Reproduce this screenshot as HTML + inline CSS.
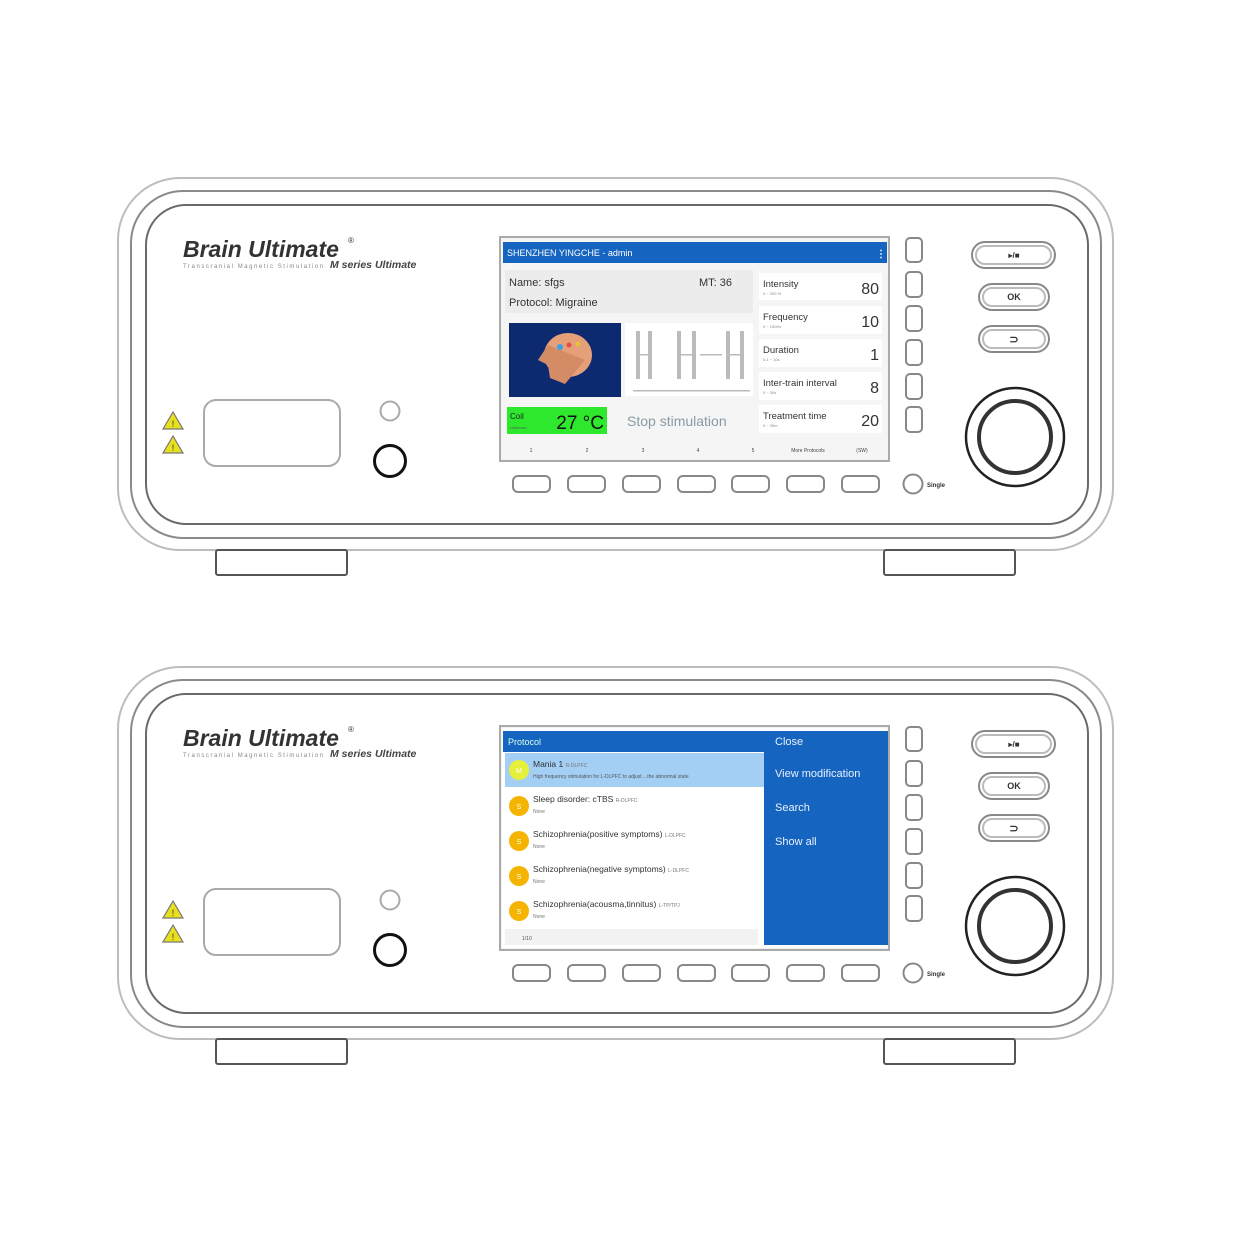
<!DOCTYPE html>
<html><head><meta charset="utf-8"><style>
html,body{margin:0;padding:0;background:#fff;}
svg{display:block;font-family:"Liberation Sans",sans-serif;}
</style></head><body>
<svg width="1240" height="1240" viewBox="0 0 1240 1240" xmlns="http://www.w3.org/2000/svg">
<defs>
<g id="frame">
  <rect x="118" y="178" width="995" height="372" rx="62" fill="#fff" stroke="#bdbdbd" stroke-width="2"/>
  <rect x="131" y="191" width="970" height="347" rx="52" fill="none" stroke="#8a8a8a" stroke-width="2"/>
  <rect x="146" y="205" width="942" height="319" rx="40" fill="none" stroke="#6a6a6a" stroke-width="2"/>
  <rect x="216" y="550" width="131" height="25" rx="2" fill="#fff" stroke="#555" stroke-width="2"/>
  <rect x="884" y="550" width="131" height="25" rx="2" fill="#fff" stroke="#555" stroke-width="2"/>
  <text x="183" y="257" font-size="23" font-weight="bold" font-style="italic" fill="#333">Brain Ultimate</text>
  <text x="348" y="243" font-size="8" fill="#333">®</text>
  <text x="183" y="268" font-size="6" fill="#888" textLength="140">Transcranial Magnetic Stimulation</text>
  <text x="330" y="268" font-size="10.5" font-weight="bold" font-style="italic" fill="#444">M series Ultimate</text>
  <path d="M173 412 L183 429 L163 429 Z" fill="#e6e020" stroke="#777" stroke-width="1.2"/>
  <path d="M173 436 L183 453 L163 453 Z" fill="#e6e020" stroke="#777" stroke-width="1.2"/>
  <text x="173" y="427" font-size="9" text-anchor="middle" fill="#333">!</text>
  <text x="173" y="451" font-size="9" text-anchor="middle" fill="#333">!</text>
  <rect x="204" y="400" width="136" height="66" rx="12" fill="none" stroke="#aaa" stroke-width="2"/>
  <circle cx="390" cy="411" r="9.5" fill="none" stroke="#aaa" stroke-width="2"/>
  <circle cx="390" cy="461" r="15.5" fill="none" stroke="#111" stroke-width="3"/>
  <rect x="500" y="237" width="389" height="224" fill="#f3f3f3" stroke="#aaa" stroke-width="2"/>
  <g fill="none" stroke="#888" stroke-width="2">
    <rect x="513" y="476" width="37" height="16" rx="5"/><rect x="568" y="476" width="37" height="16" rx="5"/>
    <rect x="623" y="476" width="37" height="16" rx="5"/><rect x="678" y="476" width="37" height="16" rx="5"/>
    <rect x="732" y="476" width="37" height="16" rx="5"/><rect x="787" y="476" width="37" height="16" rx="5"/>
    <rect x="842" y="476" width="37" height="16" rx="5"/>
    <rect x="906" y="238" width="16" height="24" rx="4"/><rect x="906" y="272" width="16" height="25" rx="4"/>
    <rect x="906" y="306" width="16" height="25" rx="4"/><rect x="906" y="340" width="16" height="25" rx="4"/>
    <rect x="906" y="374" width="16" height="25" rx="4"/><rect x="906" y="407" width="16" height="25" rx="4"/>
    <circle cx="913" cy="484" r="9.5"/>
    <rect x="972" y="242" width="83" height="26" rx="13"/><rect x="976" y="246" width="75" height="18" rx="9" stroke="#bbb"/>
    <rect x="979" y="284" width="70" height="26" rx="13"/><rect x="983" y="288" width="62" height="18" rx="9" stroke="#bbb"/>
    <rect x="979" y="326" width="70" height="26" rx="13"/><rect x="983" y="330" width="62" height="18" rx="9" stroke="#bbb"/>
  </g>
  <text x="927" y="487" font-size="6" font-weight="bold" fill="#333">Single</text>
  <text x="1014" y="258" font-size="8" font-weight="bold" text-anchor="middle" fill="#333">▸/■</text>
  <text x="1014" y="300" font-size="9" font-weight="bold" text-anchor="middle" fill="#333">OK</text>
  <text x="1014" y="343" font-size="11" font-weight="bold" text-anchor="middle" fill="#333">⊃</text>
  <circle cx="1015" cy="437" r="49" fill="none" stroke="#222" stroke-width="2.5"/>
  <circle cx="1015" cy="437" r="36" fill="none" stroke="#333" stroke-width="4"/>
</g>
</defs>

<use href="#frame"/>
<use href="#frame" y="489"/>

<!-- TOP SCREEN -->
<g font-family="Liberation Sans, sans-serif">
  <rect x="502" y="239" width="385" height="220" fill="#f5f5f5"/>
  <rect x="503" y="242" width="384" height="21" fill="#1565c0"/>
  <text x="507" y="256" font-size="9" fill="#fff">SHENZHEN YINGCHE  -  admin</text>
  <text x="876" y="257" font-size="10" fill="#fff" font-weight="bold">⋮</text>
  <rect x="505" y="270" width="248" height="43" fill="#ececec"/>
  <text x="509" y="286" font-size="11" fill="#333">Name: sfgs</text>
  <text x="699" y="286" font-size="11" fill="#333">MT: 36</text>
  <text x="509" y="306" font-size="11" fill="#333">Protocol: Migraine</text>
  <rect x="509" y="323" width="112" height="74" fill="#0d2a70"/>
  <ellipse cx="568" cy="355" rx="24" ry="22" fill="#e5a07a"/>
  <path d="M548 345 L538 360 L548 365 L550 378 L565 384 L575 372 L585 360 Z" fill="#d48c66"/>
  <circle cx="560" cy="347" r="3" fill="#3aa0e8"/><circle cx="569" cy="345" r="2.5" fill="#e84a4a"/><circle cx="578" cy="344" r="2.5" fill="#e8c03a"/>
  <rect x="625" y="323" width="128" height="73" fill="#fff"/>
  <g fill="#bbb">
    <rect x="636" y="331" width="4" height="48"/><rect x="648" y="331" width="4" height="48"/>
    <rect x="677" y="331" width="4" height="48"/><rect x="692" y="331" width="4" height="48"/>
    <rect x="726" y="331" width="4" height="48"/><rect x="740" y="331" width="4" height="48"/>
    <rect x="636" y="354" width="16" height="1.5"/><rect x="677" y="354" width="19" height="1.5"/><rect x="700" y="354" width="22" height="1.5"/><rect x="726" y="354" width="18" height="1.5"/>
    <rect x="633" y="390" width="117" height="1.5"/>
  </g>
  <rect x="507" y="407" width="100" height="27" fill="#2ee82e"/>
  <text x="510" y="419" font-size="8" fill="#222">Coil</text>
  <text x="510" y="429" font-size="4" fill="#555">Unknown</text>
  <text x="604" y="429" font-size="19" fill="#111" text-anchor="end">27 °C</text>
  <text x="627" y="426" font-size="14" fill="#8a9aa5">Stop stimulation</text>
  <g font-size="9.5" fill="#333">
    <rect x="759" y="273" width="123" height="27" fill="#fff"/>
    <text x="763" y="287">Intensity</text><text x="763" y="295" font-size="4" fill="#888">0 ~ 200 %</text>
    <text x="879" y="294" font-size="16" text-anchor="end">80</text>
    <rect x="759" y="306" width="123" height="28" fill="#fff"/>
    <text x="763" y="320">Frequency</text><text x="763" y="328" font-size="4" fill="#888">0 ~ 100Hz</text>
    <text x="879" y="327" font-size="16" text-anchor="end">10</text>
    <rect x="759" y="339" width="123" height="28" fill="#fff"/>
    <text x="763" y="353">Duration</text><text x="763" y="361" font-size="4" fill="#888">0.1 ~ 10s</text>
    <text x="879" y="360" font-size="16" text-anchor="end">1</text>
    <rect x="759" y="372" width="123" height="28" fill="#fff"/>
    <text x="763" y="386" font-size="9.5">Inter-train interval</text><text x="763" y="394" font-size="4" fill="#888">0 ~ 30s</text>
    <text x="879" y="393" font-size="16" text-anchor="end">8</text>
    <rect x="759" y="405" width="123" height="28" fill="#fff"/>
    <text x="763" y="419">Treatment time</text><text x="763" y="427" font-size="4" fill="#888">0 ~ 30m</text>
    <text x="879" y="426" font-size="16" text-anchor="end">20</text>
  </g>
  <g font-size="5" fill="#444" text-anchor="middle">
    <text x="531" y="452">1</text><text x="587" y="452">2</text><text x="643" y="452">3</text><text x="698" y="452">4</text><text x="753" y="452">5</text>
    <text x="808" y="452">More Protocols</text><text x="862" y="452">(SW)</text>
  </g>
</g>

<!-- BOTTOM SCREEN -->
<g font-family="Liberation Sans, sans-serif">
  <rect x="502" y="728" width="385" height="220" fill="#fff"/>
  <rect x="503" y="731" width="262" height="21" fill="#1565c0"/>
  <text x="508" y="745" font-size="9" fill="#dfe">Protocol</text>
  <rect x="764" y="731" width="124" height="214" fill="#1565c0"/>
  <g font-size="11" fill="#e8f0ff">
    <text x="775" y="745">Close</text><text x="775" y="777">View modification</text>
    <text x="775" y="811">Search</text><text x="775" y="845">Show all</text>
  </g>
  <rect x="505" y="753" width="259" height="34" fill="#a3cff5"/>
  <circle cx="519" cy="770" r="10" fill="#e6f03a"/>
  <g font-size="8.5" fill="#333">
    <text x="533" y="767">Mania 1 <tspan font-size="5" fill="#777">R-DLPFC</tspan></text>
    <text x="533" y="778" font-size="5" fill="#555">High frequency stimulation for L-DLPFC to adjust ...the abnormal state</text>
    <circle cx="519" cy="806" r="10" fill="#f5b400"/>
    <text x="533" y="802">Sleep disorder: cTBS <tspan font-size="5" fill="#777">R-DLPFC</tspan></text>
    <text x="533" y="813" font-size="5" fill="#777">None</text>
    <circle cx="519" cy="841" r="10" fill="#f5b400"/>
    <text x="533" y="837">Schizophrenia(positive symptoms) <tspan font-size="5" fill="#777">L-DLPFC</tspan></text>
    <text x="533" y="848" font-size="5" fill="#777">None</text>
    <circle cx="519" cy="876" r="10" fill="#f5b400"/>
    <text x="533" y="872">Schizophrenia(negative symptoms) <tspan font-size="5" fill="#777">L-DLPFC</tspan></text>
    <text x="533" y="883" font-size="5" fill="#777">None</text>
    <circle cx="519" cy="911" r="10" fill="#f5b400"/>
    <text x="533" y="907">Schizophrenia(acousma,tinnitus) <tspan font-size="5" fill="#777">L-TP/TPJ</tspan></text>
    <text x="533" y="918" font-size="5" fill="#777">None</text>
  </g>
  <rect x="505" y="929" width="253" height="16" fill="#f2f2f2"/>
  <text x="522" y="940" font-size="5" fill="#555">1/10</text>
  <g font-size="7" fill="#fff" text-anchor="middle">
    <text x="519" y="773">M</text><text x="519" y="809">S</text><text x="519" y="844">S</text><text x="519" y="879">S</text><text x="519" y="914">S</text>
  </g>
</g>
</svg>
</body></html>
